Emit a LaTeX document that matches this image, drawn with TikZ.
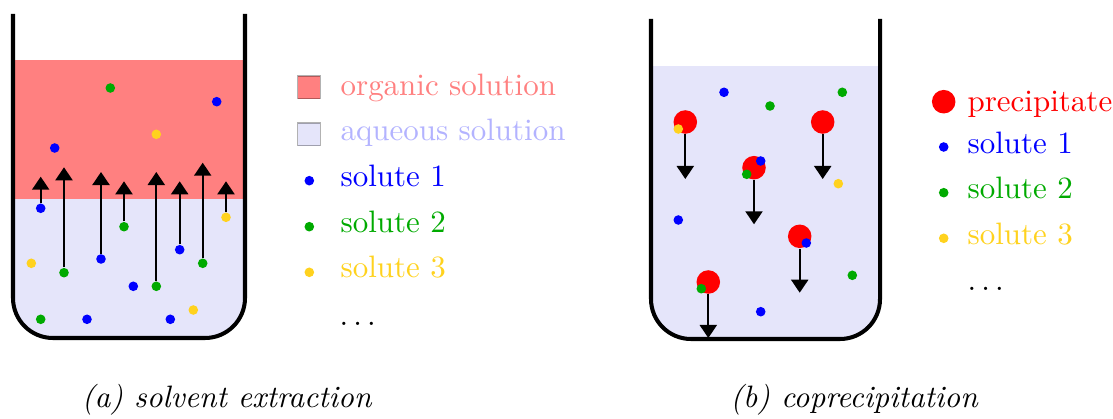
\documentclass[tikz,border=0pt]{standalone}
\usetikzlibrary{arrows.meta}
\definecolor{organic}{RGB}{255,128,128}
\definecolor{aqueous}{RGB}{229,229,250}
\definecolor{solone}{RGB}{0,0,255}
\definecolor{soltwo}{RGB}{0,170,0}
\definecolor{solthree}{RGB}{255,210,30}
\definecolor{aqtext}{RGB}{179,179,255}
\begin{document}
\begin{tikzpicture}[x=0.3229pt, y=-0.3229pt,
  beaker/.style={line width=1.3pt, rounded corners=12.9pt},
  sol/.style={circle, fill=#1, inner sep=0pt, minimum size=3.1pt},
  prec/.style={circle, fill=red, inner sep=0pt, minimum size=7.6pt},
  flow/.style={line width=0.65pt, -{Triangle[width=5.5pt,length=4.2pt]}},
  lab/.style={anchor=base west, inner sep=0pt, text=#1},
  swatch/.style={draw=black, draw opacity=0.3, fill=#1, line width=0.35pt,
                 minimum size=7.4pt, inner sep=0pt},
  caption/.style={anchor=base, inner sep=0pt, font=\itshape}]
\useasboundingbox (0,0) rectangle (1113,419);

% ---------- (a) solvent extraction ----------
\begin{scope}
  \clip[rounded corners=12.9pt] (13,0) -- (13,338) -- (245,338) -- (245,0) -- cycle;
  \fill[organic] (0,60) rectangle (260,199);
  \fill[aqueous] (0,199) rectangle (260,350);
\end{scope}
\draw[beaker] (13,14) -- (13,338) -- (245,338) -- (245,14);

\node[sol=soltwo]   (l1)  at (110.3,88) {};
\node[sol=solone]   (l2)  at (216.7,101.7) {};
\node[sol=solthree] (l3)  at (156.3,134.3) {};
\node[sol=solone]   (l4)  at (54.7,148) {};
\node[sol=solone]   (l5)  at (40.7,208.3) {};
\node[sol=soltwo]   (l6)  at (64,272.7) {};
\node[sol=solone]   (l7)  at (101,259) {};
\node[sol=soltwo]   (l8)  at (124,226.7) {};
\node[sol=soltwo]   (l9)  at (156.3,286.3) {};
\node[sol=solone]   (l10) at (179.7,249.7) {};
\node[sol=soltwo]   (l11) at (202.7,263.3) {};
\node[sol=solthree] (l12) at (226,217.3) {};
\node[sol=solthree] (l13) at (31.3,263.3) {};
\node[sol=solone]   (l14) at (133.3,286.3) {};
\node[sol=solthree] (l15) at (193.3,310) {};
\node[sol=soltwo]   (l16) at (40.7,319.3) {};
\node[sol=solone]   (l17) at (87,319.3) {};
\node[sol=solone]   (l18) at (170.3,319.3) {};

\coordinate (t5)  at (40.7,176.7);
\coordinate (t6)  at (64,167.3);
\coordinate (t7)  at (101,172);
\coordinate (t8)  at (124,181.3);
\coordinate (t9)  at (156.3,172);
\coordinate (t10) at (179.7,181.3);
\coordinate (t11) at (202.7,162.7);
\coordinate (t12) at (226,181.3);
\foreach \i in {5,...,12} \draw[flow] (l\i) -- (t\i);

% legend (a)
\node[swatch=organic] (sqo) at (309,87.5) {};
\node[swatch=aqueous] (sqa) at (309,134.5) {};
\node[sol=solone]   (ka1) at (309.3,180.7) {};
\node[sol=soltwo]   (ka2) at (309.3,226.7) {};
\node[sol=solthree] (ka3) at (309.3,272.3) {};
\node[lab=organic]  (ta0) at (340,96) {organic solution};
\node[lab=aqtext]   (taq) at (340,141) {aqueous solution};
\node[lab=solone]   (ta1) at (340,187) {solute 1};
\node[lab=soltwo]   (ta2) at (340,232.7) {solute 2};
\node[lab=solthree] (ta3) at (340,278) {solute 3};
\node[lab=black]    (tad) at (339,325) {$\ldots$};

\node[caption] (capa) at (226.7,407.5) {(a) solvent extraction};

% ---------- (b) coprecipitation ----------
\begin{scope}
  \clip[rounded corners=12.9pt] (651,0) -- (651,339) -- (880,339) -- (880,0) -- cycle;
  \fill[aqueous] (640,65.7) rectangle (890,350);
\end{scope}
\draw[beaker] (651,19) -- (651,339) -- (880,339) -- (880,19);

\node[sol=solone] (r1) at (724,92.3) {};
\node[sol=soltwo] (r2) at (842.3,92.3) {};
\node[sol=soltwo] (r3) at (770,106) {};
\node[sol=solthree] (r4) at (838.3,183.7) {};
\node[sol=solone] (r5) at (678.3,220) {};
\node[sol=soltwo] (r6) at (852.3,275.3) {};
\node[sol=solone] (r7) at (760.7,311.7) {};

\node[prec] (p1) at (685.3,122) {};
\node[prec] (p2) at (822.7,122) {};
\node[prec] (p3) at (754,167.7) {};
\node[prec] (p4) at (799.7,236.3) {};
\node[prec] (p5) at (708.3,282) {};

\coordinate (q1) at (685.3,179);
\coordinate (q2) at (822.7,179);
\coordinate (q3) at (754,224.3);
\coordinate (q4) at (799.7,292.7);
\coordinate (q5) at (708.3,338);
\foreach \i in {1,...,5} \draw[flow] (p\i) -- (q\i);

\node[sol=solthree] (s1) at (678.3,129) {};
\node[sol=solone]   (s2) at (760.7,161) {};
\node[sol=soltwo]   (s3) at (746.7,174.3) {};
\node[sol=solone]   (s4) at (806.3,243) {};
\node[sol=soltwo]   (s5) at (701.3,288.7) {};

% legend (b)
\node[prec]         (kb0) at (943.7,101.7) {};
\node[sol=solone]   (kb1) at (943.7,147) {};
\node[sol=soltwo]   (kb2) at (943.7,192.7) {};
\node[sol=solthree] (kb3) at (943.7,238.3) {};
\node[lab=red]      (tb0) at (967,112) {precipitate};
\node[lab=solone]   (tb1) at (967,153.5) {solute 1};
\node[lab=soltwo]   (tb2) at (967,199) {solute 2};
\node[lab=solthree] (tb3) at (967,245) {solute 3};
\node[lab=black]    (tbd) at (967,291) {$\ldots$};

\node[caption] (capb) at (854,407.5) {(b) coprecipitation};
\end{tikzpicture}
\end{document}
